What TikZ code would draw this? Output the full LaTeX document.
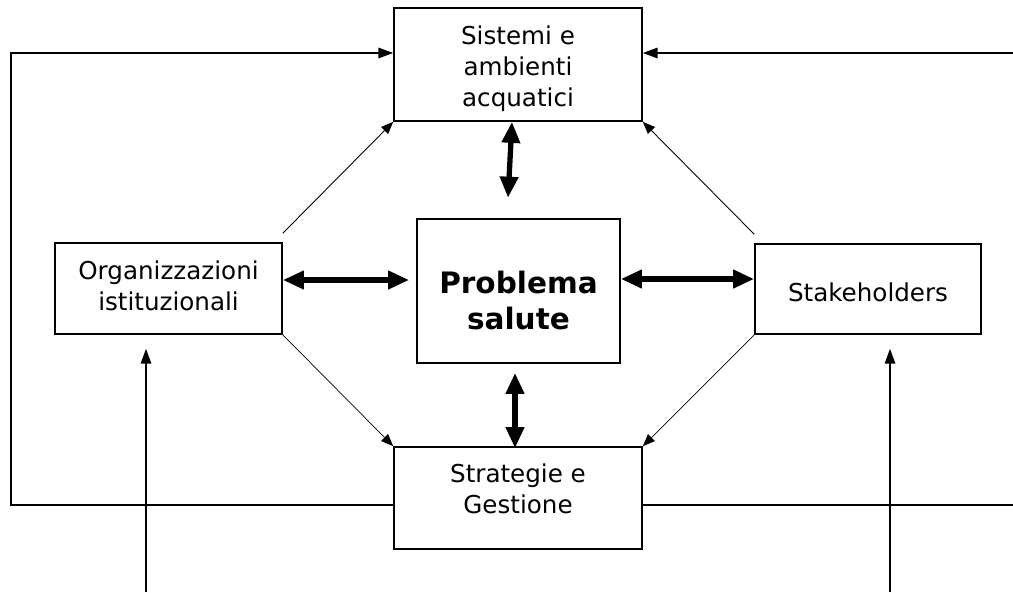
\documentclass[tikz,border=0pt]{standalone}
\usepackage{fontspec}
\setmainfont{DejaVu Sans}
\usetikzlibrary{arrows.meta,calc}

\begin{document}
\begin{tikzpicture}
        [x=0.02cm,y=-0.02cm,
          boxdecorate/.style={shape=rectangle,draw,line width=0.9pt,inner sep=0pt},%
          textdecorate/.style={align=center,font=\fontsize{14}{17.6}\selectfont},%
          bigdecorate/.style={align=center,font=\fontsize{16.8}{20.5}\selectfont\bfseries},%
          loopdecorate/.style={line width=0.9pt,-{Triangle[length=8.5pt,width=6pt]}},%
          diagdecorate/.style={line width=0.5pt,-{Triangle[length=7pt,width=5.5pt]}},%
          bothdecorate/.style={line width=3pt,{Triangle[length=12pt,width=10pt]}-{Triangle[length=12pt,width=10pt]}}]
        \useasboundingbox (0,0) rectangle (1013,592);
        %% boxes
        \foreach \nodename/\x/\y/\w/\h in {sis/518/64.5/248/113, org/168.5/288.5/227/91,
          pro/518.5/291/203/144, sta/868/289/226/90, str/518/498/248/102}
        {
          \node (\nodename) at (\x,\y) [boxdecorate,minimum width=\w*0.02cm,minimum height=\h*0.02cm] {};
        }
        %% texts
        \node (sis-t) at (518,69) [textdecorate] {Sistemi e\\ambienti\\acquatici};
        \node (org-t) at (168.5,286) [textdecorate] {Organizzazioni\\istituzionali};
        \node (pro-t) at (518.5,300) [bigdecorate] {Problema\\salute};
        \node (sta-t) at (868,292.5) [textdecorate] {Stakeholders};
        \node (str-t) at (518,488.5) [textdecorate] {Strategie e\\Gestione};
        %% outer lines
        \coordinate (tl) at (11,53);
        \coordinate (bl) at (11,505);
        \coordinate (tr) at (1013,53);
        \coordinate (br) at (1013,505);
        \coordinate (ol) at (146,592);
        \coordinate (or) at (890,592);
        \draw[loopdecorate] (str.west |- bl) -- (bl) -- (tl) -- (sis.west |- tl);
        \draw[loopdecorate] (tr) -- (sis.east |- tr);
        \draw[line width=0.9pt] (str.east |- br) -- (br);
        \draw[loopdecorate,shorten >=0.28cm] (ol) -- (ol |- org.south);
        \draw[loopdecorate,shorten >=0.28cm] (or) -- (or |- sta.south);
        %% thin diagonals
        \draw[diagdecorate] ($(org.north east)+(0,-9)$) -- (sis.south west);
        \draw[diagdecorate] ($(sta.north west)+(0,-9)$) -- (sis.south east);
        \draw[diagdecorate,line width=0.4pt] (org.south east) -- (str.north west);
        \draw[diagdecorate,line width=0.4pt] (sta.south west) -- (str.north east);
        %% thick double arrows
        \draw[bothdecorate] ($(org.east)+(0,-8.5)$) -- ($(pro.west |- org.east)+(-7,-8.5)$);
        \draw[bothdecorate] ($(pro.east |- sta.west)+(0,-10)$) -- ($(sta.west)+(0,-10)$);
        \draw[bothdecorate] ($(sis.south)+(-6,0)$) -- ($(sis.south)+(-10,76)$);
        \draw[bothdecorate] ($(pro.south)+(-3.5,9)$) -- ($(str.north)+(-3,2)$);
        \end{tikzpicture}
\end{document}
